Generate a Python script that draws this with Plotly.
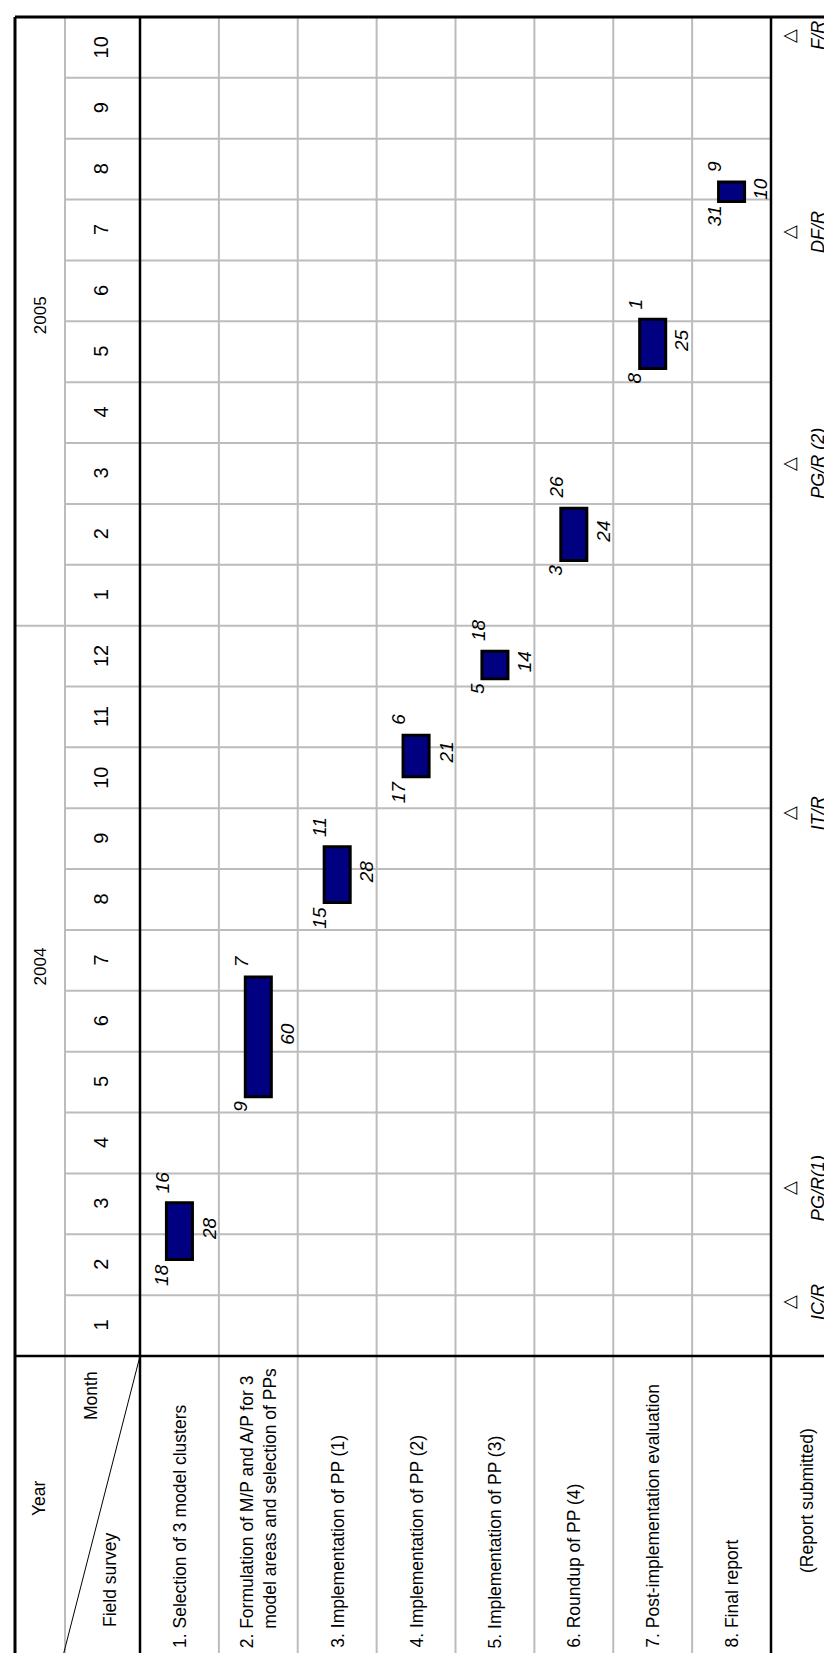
import calendar
from datetime import date
import plotly.graph_objects as go

# ---------------- data ----------------
task_labels = [
    "1. Selection of 3 model clusters",
    "2. Formulation of M/P and A/P for 3",
    "3. Implementation of PP (1)",
    "4. Implementation of PP (2)",
    "5. Implementation of PP (3)",
    "6. Roundup of PP (4)",
    "7. Post-implementation evaluation",
    "8. Final report",
]
task2_second_line = "model areas and selection of PPs"
task_start = ["2004-02-18", "2004-05-09", "2004-08-15", "2004-10-17",
              "2004-12-05", "2005-02-03", "2005-05-08", "2005-07-31"]
task_end = ["2004-03-16", "2004-07-07", "2004-09-11", "2004-11-06",
            "2004-12-18", "2005-02-26", "2005-06-01", "2005-08-09"]
task_days = [28, 60, 28, 21, 14, 24, 25, 10]

year_labels = ["2004", "2005"]
month_labels = ["1", "2", "3", "4", "5", "6", "7", "8", "9", "10", "11", "12",
                "1", "2", "3", "4", "5", "6", "7", "8", "9", "10"]

report_names = ["IC/R", "PG/R(1)", "IT/R", "PG/R (2)", "DF/R", "F/R"]
report_dates = ["2004-01-28", "2004-03-24", "2004-09-28", "2005-03-21",
                "2005-07-15", "2005-10-22"]

# ---------------- helpers ----------------
BASE_YEAR = 2004


def to_date(s):
    y, m, d = (int(v) for v in s.split("-"))
    return date(y, m, d)


def month_pos(s, part):
    """Position on the month axis (0 = start of Jan 2004)."""
    d = to_date(s)
    idx = (d.year - BASE_YEAR) * 12 + d.month - 1
    dim = calendar.monthrange(d.year, d.month)[1]
    if part == "start":
        frac = (d.day - 1) / dim
    elif part == "end":
        frac = d.day / dim
    else:
        frac = (d.day - 0.5) / dim
    return idx + frac


# layout geometry (pixels of the 832x1653 page)
W, H = 832, 1653
COL_PX = 78.875        # width of a task column
TASK_LEFT_PX = 132     # left edge of task 1 column
MONTH_PX = 60.864      # height of one month
BASE_PY = 1348         # pixel y of start of Jan 2004


def xd(px):
    return 0.5 + (px - TASK_LEFT_PX) / COL_PX


def yd(py):
    return (BASE_PY - py) / MONTH_PX


n_tasks = len(task_labels)
n_months = len(month_labels)
xs = list(range(1, n_tasks + 1))
starts = [month_pos(s, "start") for s in task_start]
ends = [month_pos(e, "end") for e in task_end]
lengths = [e - s for s, e in zip(starts, ends)]
BAR_W = 0.33

FONT = "Liberation Sans, Arial, sans-serif"

fig = go.Figure()
fig.add_trace(go.Bar(
    x=xs, y=lengths, base=starts, width=BAR_W,
    marker=dict(color="#000080", line=dict(color="#000000", width=3)),
    hoverinfo="skip", showlegend=False,
))

shapes = []
GRID = dict(color="#bcbcbc", width=2)
BLACK = dict(color="#000000", width=2.5)

# horizontal month lines
for k in range(1, n_months):
    x0 = xd(7) if k == 12 else xd(57)
    shapes.append(dict(type="line", xref="x", yref="y", x0=x0, x1=xd(763),
                       y0=k, y1=k, line=GRID, layer="below"))
# vertical task lines
for i in range(1, n_tasks):
    shapes.append(dict(type="line", xref="x", yref="y", x0=i + 0.5, x1=i + 0.5,
                       y0=yd(1648), y1=yd(9), line=GRID, layer="below"))
# year / month strip separator
shapes.append(dict(type="line", xref="x", yref="y", x0=xd(57), x1=xd(57),
                   y0=yd(1648), y1=yd(9), line=GRID, layer="below"))
# black structure lines
shapes.append(dict(type="line", xref="x", yref="y", x0=0.5, x1=0.5,
                   y0=yd(1648), y1=yd(9), line=BLACK))
shapes.append(dict(type="line", xref="x", yref="y", x0=n_tasks + 0.5, x1=n_tasks + 0.5,
                   y0=yd(1648), y1=yd(9), line=BLACK))
shapes.append(dict(type="line", xref="x", yref="y", x0=xd(7), x1=xd(832),
                   y0=0, y1=0, line=BLACK))
# outer border
BORDER = dict(color="#000000", width=3)
shapes.append(dict(type="line", xref="x", yref="y", x0=xd(7), x1=xd(7),
                   y0=yd(1648), y1=yd(9), line=BORDER))
shapes.append(dict(type="line", xref="x", yref="y", x0=xd(7), x1=xd(832),
                   y0=yd(9), y1=yd(9), line=BORDER))
shapes.append(dict(type="line", xref="x", yref="y", x0=xd(7), x1=xd(832),
                   y0=yd(1648), y1=yd(1648), line=BORDER))
# diagonal in header cell
shapes.append(dict(type="line", xref="x", yref="y", x0=xd(55), x1=xd(132),
                   y0=yd(1648), y1=yd(1348), line=dict(color="#000000", width=1)))

ann = []


def A(x, y, text, size, **kw):
    d = dict(x=x, y=y, xref="x", yref="y", text=text, showarrow=False,
             textangle=-90, font=dict(family=FONT, size=size, color="#000000"))
    d.update(kw)
    ann.append(d)


# month numbers
for i, m in enumerate(month_labels):
    A(xd(93), i + 0.5, m, 20)
# years
year_pos = [6.4, 17.1]
for yl, yp in zip(year_labels, year_pos):
    A(xd(32), yp, yl, 17)
# header cell
A(xd(31), yd(1490), "Year", 17.5)
A(xd(83), yd(1388), "Month", 17.5)
A(xd(102), yd(1572), "Field survey", 17.5)

# task labels
for i, t in enumerate(task_labels):
    text = t
    if i == 1:
        text = t + "<br>" + "&nbsp;" * 4 + task2_second_line
    A(i + 1, yd(1642), text, 17.5, yanchor="bottom", align="left")

A(xd(799), yd(1493), "(Report submitted)", 17.5)

# report markers
for name, ds in zip(report_names, report_dates):
    p = month_pos(ds, "mid")
    A(xd(781), p, "△", 18)
    A(xd(810), p, "<i>%s</i>" % name, 18)

# bar labels
for i in range(n_tasks):
    sd = to_date(task_start[i]).day
    ed = to_date(task_end[i]).day
    left = xs[i] - BAR_W / 2
    right = xs[i] + BAR_W / 2
    A(left, starts[i], "<i>%d</i>" % sd, 19, yanchor="top", xshift=-5, yshift=-2)
    A(left, ends[i], "<i>%d</i>" % ed, 19, yanchor="bottom", xshift=-4, yshift=8)
    A(right, (starts[i] + ends[i]) / 2, "<i>%d</i>" % task_days[i], 19,
      xanchor="left", xshift=4, yshift=3)

fig.update_layout(
    width=W, height=H,
    margin=dict(l=0, r=0, t=0, b=0),
    paper_bgcolor="white", plot_bgcolor="white",
    xaxis=dict(range=[xd(0), xd(W)], visible=False, fixedrange=True),
    yaxis=dict(range=[yd(H), yd(0)], visible=False, fixedrange=True),
    shapes=shapes, annotations=ann, showlegend=False,
)

fig.write_html("out.html")
